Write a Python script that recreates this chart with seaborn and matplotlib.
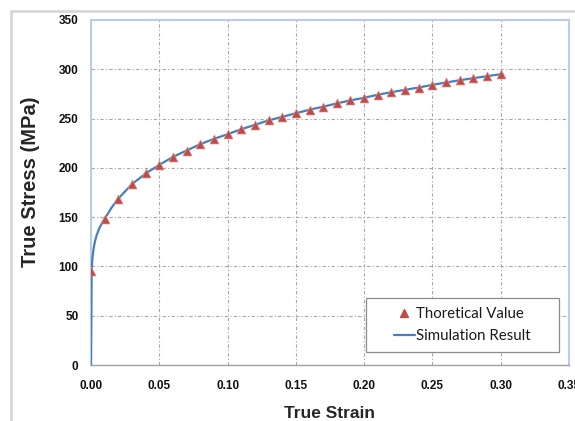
import matplotlib
matplotlib.use("Agg")
import matplotlib.pyplot as plt
from matplotlib.lines import Line2D
from matplotlib.patches import Rectangle
import seaborn as sns
import pandas as pd
import numpy as np

# Theoretical values (triangles)
theo_strain = [0.00, 0.01, 0.02, 0.03, 0.04, 0.05, 0.06, 0.07, 0.08, 0.09, 0.10,
               0.11, 0.12, 0.13, 0.14, 0.15, 0.16, 0.17, 0.18, 0.19, 0.20,
               0.21, 0.22, 0.23, 0.24, 0.25, 0.26, 0.27, 0.28, 0.29, 0.30]
theo_stress = [95.5, 148.3, 168.9, 183.4, 194.3, 203.0, 211.1, 217.6, 224.0, 229.4, 234.1,
               239.2, 243.6, 248.2, 251.7, 255.4, 259.0, 262.0, 265.4, 268.5, 271.1,
               274.2, 276.8, 279.2, 281.5, 284.2, 286.6, 288.9, 291.0, 293.0, 295.0]

# Simulation result (line)
sim_strain = [0.0, 0.0005, 0.001, 0.002, 0.003, 0.004, 0.006, 0.008, 0.01, 0.015, 0.02,
              0.03, 0.04, 0.05, 0.06, 0.07, 0.08, 0.09, 0.10, 0.11, 0.12, 0.13, 0.14,
              0.15, 0.16, 0.17, 0.18, 0.19, 0.20, 0.21, 0.22, 0.23, 0.24, 0.25, 0.26,
              0.27, 0.28, 0.29, 0.30]
sim_stress = [0.0, 95.0, 108.0, 119.0, 126.0, 131.0, 138.5, 144.0, 148.3, 159.5, 168.9,
              183.4, 194.3, 203.0, 211.1, 217.6, 224.0, 229.4, 234.1, 239.2, 243.6, 248.2, 251.7,
              255.4, 259.0, 262.0, 265.4, 268.5, 271.1, 274.2, 276.8, 279.2, 281.5, 284.2, 286.6,
              288.9, 291.0, 293.0, 295.0]

x_ticks = [0.00, 0.05, 0.10, 0.15, 0.20, 0.25, 0.30, 0.35]
x_tick_labels = ["0.00", "0.05", "0.10", "0.15", "0.20", "0.25", "0.30", "0.35"]
y_ticks = [0, 50, 100, 150, 200, 250, 300, 350]

theo_df = pd.DataFrame({"strain": theo_strain, "stress": theo_stress})
sim_df = pd.DataFrame({"strain": sim_strain, "stress": sim_stress})

sns.set_style("white")
plt.rcParams['font.family'] = ['Liberation Sans', 'DejaVu Sans']

fig = plt.figure(figsize=(5.75, 4.21), dpi=100)
W, H = 575, 421
L, R, T, B = 91, 569, 20, 365
ax = fig.add_axes([L / W, 1 - B / H, (R - L) / W, (B - T) / H])

line_color = "#4A7EBB"
tri_color = "#BE4B48"

sns.lineplot(data=sim_df, x="strain", y="stress", ax=ax, color=line_color,
             linewidth=1.6, sort=False, legend=False, zorder=3)
sns.scatterplot(data=theo_df, x="strain", y="stress", ax=ax, marker="^",
                color=tri_color, s=42, edgecolor="#d99694", linewidth=0.5,
                legend=False, zorder=4)

ax.set_xlim(0, 0.35)
ax.set_ylim(0, 350)
ax.set_xticks(x_ticks)
ax.set_xticklabels(x_tick_labels)
ax.set_yticks(y_ticks)

for lab in ax.get_xticklabels() + ax.get_yticklabels():
    lab.set_fontweight("bold")
    lab.set_fontsize(8.5)
    lab.set_color("#111111")

ax.tick_params(axis="x", direction="out", length=3, width=0.8, color="#a0a0a0", pad=8)
ax.tick_params(axis="y", direction="out", length=4, width=0.8, color="#a0a0a0", pad=5)

ax.grid(True, color="#a6a6a6", linestyle=(0, (3, 2, 1, 2)), linewidth=0.8)
ax.set_axisbelow(True)

for side in ["left", "top", "right"]:
    ax.spines[side].set_color("#B9CDE5")
    ax.spines[side].set_linewidth(1.5)
ax.spines["bottom"].set_color("#a0a0a0")
ax.spines["bottom"].set_linewidth(1.0)

ax.set_xlabel("True Strain", fontsize=12.5, fontweight="bold")
ax.set_ylabel("True Stress (MPa)", fontsize=14.5, fontweight="bold")
ax.xaxis.set_label_coords(0.5, -(413 - B) / (B - T))
ax.xaxis.label.set_va("center")
ax.yaxis.set_label_coords(-(L - 31) / (R - L), (B - 182) / (B - T))
ax.yaxis.label.set_va("center")

# legend frame
fx0, fx1, fy0, fy1 = 366, 559, 298, 352
frame = Rectangle(((fx0 - L) / (R - L), (B - fy1) / (B - T)),
                  (fx1 - fx0) / (R - L), (fy1 - fy0) / (B - T),
                  transform=ax.transAxes, facecolor="white", edgecolor="#8c8c8c",
                  linewidth=0.9, zorder=5)
ax.add_patch(frame)

h_tri = Line2D([], [], marker="^", color=tri_color, linestyle="none", markersize=5.5)
h_line = Line2D([], [], color=line_color, linewidth=1.6)
leg = ax.legend([h_tri, h_line], ["Thoretical Value", "Simulation Result"],
                loc="center", bbox_to_anchor=(((fx0 + fx1) / 2 - L) / (R - L), (B - (fy0 + fy1) / 2) / (B - T)),
                frameon=False,
                prop={"family": ["Lato", "DejaVu Sans"], "size": 10.8},
                handlelength=1.35, handletextpad=0.1, borderpad=0.2, labelspacing=0.55,
                borderaxespad=0)
leg.set_zorder(6)
for t in leg.get_texts():
    t.set_color("#1a1a1a")

# outer chart border (light gray), top and left visible
bx, by = 10.5 / W, 1 - 11 / H
fig.add_artist(Line2D([bx, 1.0], [by, by], transform=fig.transFigure, color="#d4d4d4", linewidth=1.8))
fig.add_artist(Line2D([bx, bx], [0, by], transform=fig.transFigure, color="#d4d4d4", linewidth=1.8))

fig.savefig("out.png", dpi=100)
